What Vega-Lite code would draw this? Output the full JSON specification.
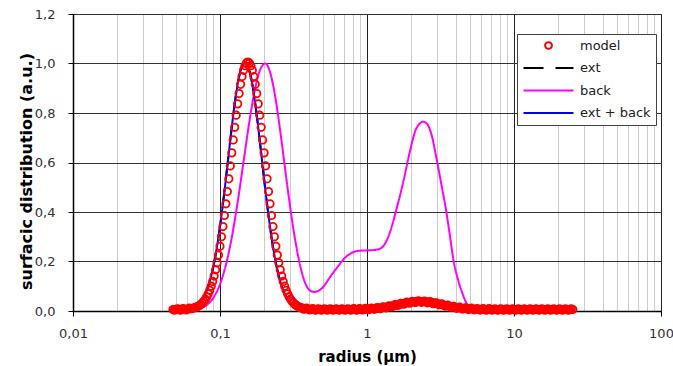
{
  "$schema": "https://vega.github.io/schema/vega-lite/v6.json",
  "width": 588,
  "height": 297,
  "autosize": {"type": "none"},
  "padding": {"left": 73, "top": 14, "right": 12, "bottom": 55},
  "background": "white",
  "config": {
    "view": {"stroke": "#808080", "strokeWidth": 1},
    "font": "DejaVu Sans",
    "axis": {
      "domainColor": "#000000",
      "domainWidth": 1.5,
      "tickColor": "#000000",
      "tickSize": 5,
      "labelFont": "DejaVu Sans",
      "labelFontSize": 13,
      "labelColor": "#333333",
      "titleFont": "DejaVu Sans",
      "titleFontWeight": "bold",
      "titleColor": "#000000",
      "labelFlush": false,
      "labelOverlap": false
    },
    "legend": {
      "orient": "none",
      "legendX": 444,
      "legendY": 20,
      "strokeColor": "#404040",
      "fillColor": "white",
      "padding": 5,
      "labelFont": "DejaVu Sans",
      "labelFontSize": 13,
      "labelColor": "#222222",
      "symbolSize": 100,
      "symbolOffset": 20,
      "labelOffset": 25,
      "rowPadding": 8.5,
      "symbolStrokeWidth": 2
    }
  },
  "datasets": {
    "model": [
      {"s":"model","r":0.04786,"v":0.006},{"s":"model","r":0.05012,"v":0.006},{"s":"model","r":0.05248,"v":0.0062},{"s":"model","r":0.05495,"v":0.0065},
      {"s":"model","r":0.05754,"v":0.0069},{"s":"model","r":0.06026,"v":0.0077},{"s":"model","r":0.0631,"v":0.0092},{"s":"model","r":0.06607,"v":0.0117},
      {"s":"model","r":0.048978,"v":0.003},{"s":"model","r":0.051286,"v":0.009},{"s":"model","r":0.053703,"v":0.0035},{"s":"model","r":0.056234,"v":0.0097},
      {"s":"model","r":0.058884,"v":0.0043},{"s":"model","r":0.06166,"v":0.0115},{"s":"model","r":0.064565,"v":0.0104},{"s":"model","r":0.067608,"v":0.0137},
      {"s":"model","r":0.06918,"v":0.0157},{"s":"model","r":0.07079,"v":0.0186},{"s":"model","r":0.07244,"v":0.0223},{"s":"model","r":0.07413,"v":0.0268},
      {"s":"model","r":0.07586,"v":0.0324},{"s":"model","r":0.07762,"v":0.0393},{"s":"model","r":0.07943,"v":0.0476},{"s":"model","r":0.08128,"v":0.0576},
      {"s":"model","r":0.08318,"v":0.0695},{"s":"model","r":0.08511,"v":0.0836},{"s":"model","r":0.0871,"v":0.1001},{"s":"model","r":0.08913,"v":0.1193},
      {"s":"model","r":0.0912,"v":0.1413},{"s":"model","r":0.09333,"v":0.1664},{"s":"model","r":0.0955,"v":0.1948},{"s":"model","r":0.09772,"v":0.2264},
      {"s":"model","r":0.1,"v":0.2614},{"s":"model","r":0.10233,"v":0.2998},{"s":"model","r":0.10471,"v":0.3413},{"s":"model","r":0.10715,"v":0.3859},
      {"s":"model","r":0.10965,"v":0.4331},{"s":"model","r":0.1122,"v":0.4826},{"s":"model","r":0.11482,"v":0.5339},{"s":"model","r":0.11749,"v":0.5862},
      {"s":"model","r":0.12023,"v":0.6389},{"s":"model","r":0.12303,"v":0.6912},{"s":"model","r":0.12589,"v":0.7422},{"s":"model","r":0.12882,"v":0.7911},
      {"s":"model","r":0.13183,"v":0.8369},{"s":"model","r":0.1349,"v":0.8787},{"s":"model","r":0.13804,"v":0.9158},{"s":"model","r":0.14125,"v":0.9473},
      {"s":"model","r":0.14454,"v":0.9725},{"s":"model","r":0.14791,"v":0.991},{"s":"model","r":0.15136,"v":1.0022},{"s":"model","r":0.15488,"v":1.006},
      {"s":"model","r":0.15849,"v":1.0022},{"s":"model","r":0.16218,"v":0.991},{"s":"model","r":0.16596,"v":0.9725},{"s":"model","r":0.16982,"v":0.9473},
      {"s":"model","r":0.17378,"v":0.9158},{"s":"model","r":0.17783,"v":0.8787},{"s":"model","r":0.18197,"v":0.8369},{"s":"model","r":0.18621,"v":0.7911},
      {"s":"model","r":0.19055,"v":0.7422},{"s":"model","r":0.19498,"v":0.6912},{"s":"model","r":0.19953,"v":0.6389},{"s":"model","r":0.20417,"v":0.5862},
      {"s":"model","r":0.20893,"v":0.5339},{"s":"model","r":0.2138,"v":0.4826},{"s":"model","r":0.21878,"v":0.4331},{"s":"model","r":0.22387,"v":0.3859},
      {"s":"model","r":0.22909,"v":0.3413},{"s":"model","r":0.23442,"v":0.2998},{"s":"model","r":0.23988,"v":0.2614},{"s":"model","r":0.24547,"v":0.2264},
      {"s":"model","r":0.25119,"v":0.1948},{"s":"model","r":0.25704,"v":0.1664},{"s":"model","r":0.26303,"v":0.1413},{"s":"model","r":0.26915,"v":0.1193},
      {"s":"model","r":0.27542,"v":0.1001},{"s":"model","r":0.28184,"v":0.0836},{"s":"model","r":0.2884,"v":0.0695},{"s":"model","r":0.29512,"v":0.0576},
      {"s":"model","r":0.302,"v":0.0476},{"s":"model","r":0.30903,"v":0.0393},{"s":"model","r":0.31623,"v":0.0324},{"s":"model","r":0.32359,"v":0.0268},
      {"s":"model","r":0.33113,"v":0.0223},{"s":"model","r":0.33884,"v":0.0186},{"s":"model","r":0.34674,"v":0.0157},{"s":"model","r":0.35481,"v":0.0134},
      {"s":"model","r":0.36308,"v":0.0117},{"s":"model","r":0.38019,"v":0.0092},{"s":"model","r":0.39811,"v":0.0077},{"s":"model","r":0.41687,"v":0.0069},
      {"s":"model","r":0.43652,"v":0.0065},{"s":"model","r":0.45709,"v":0.0062},{"s":"model","r":0.47863,"v":0.006},{"s":"model","r":0.50119,"v":0.006},
      {"s":"model","r":0.52481,"v":0.006},{"s":"model","r":0.54954,"v":0.006},{"s":"model","r":0.57544,"v":0.006},{"s":"model","r":0.60256,"v":0.006},
      {"s":"model","r":0.63096,"v":0.006},{"s":"model","r":0.66069,"v":0.006},{"s":"model","r":0.69183,"v":0.006},{"s":"model","r":0.72444,"v":0.006},
      {"s":"model","r":0.75858,"v":0.0061},{"s":"model","r":0.79433,"v":0.0062},{"s":"model","r":0.83176,"v":0.0064},{"s":"model","r":0.87096,"v":0.0066},
      {"s":"model","r":0.91201,"v":0.0069},{"s":"model","r":0.95499,"v":0.0073},{"s":"model","r":1.0,"v":0.0078},{"s":"model","r":1.0471,"v":0.0085},
      {"s":"model","r":1.0965,"v":0.0093},{"s":"model","r":1.1482,"v":0.0103},{"s":"model","r":1.2023,"v":0.0116},{"s":"model","r":1.2589,"v":0.0131},
      {"s":"model","r":1.3183,"v":0.0149},{"s":"model","r":1.3804,"v":0.0169},{"s":"model","r":1.4454,"v":0.0192},{"s":"model","r":1.5136,"v":0.0216},
      {"s":"model","r":1.5849,"v":0.0241},{"s":"model","r":1.6596,"v":0.0267},{"s":"model","r":1.7378,"v":0.0292},{"s":"model","r":1.8197,"v":0.0316},
      {"s":"model","r":1.9055,"v":0.0338},{"s":"model","r":1.9953,"v":0.0355},{"s":"model","r":2.0893,"v":0.0369},{"s":"model","r":2.1878,"v":0.0377},
      {"s":"model","r":2.2909,"v":0.038},{"s":"model","r":2.3988,"v":0.0377},{"s":"model","r":2.5119,"v":0.0369},{"s":"model","r":2.6303,"v":0.0355},
      {"s":"model","r":2.7542,"v":0.0338},{"s":"model","r":2.884,"v":0.0316},{"s":"model","r":3.02,"v":0.0292},{"s":"model","r":3.1623,"v":0.0267},
      {"s":"model","r":3.3113,"v":0.0241},{"s":"model","r":3.4674,"v":0.0216},{"s":"model","r":3.6308,"v":0.0192},{"s":"model","r":3.8019,"v":0.0169},
      {"s":"model","r":3.9811,"v":0.0149},{"s":"model","r":4.1687,"v":0.0131},{"s":"model","r":4.3652,"v":0.0116},{"s":"model","r":4.5709,"v":0.0103},
      {"s":"model","r":4.7863,"v":0.0093},{"s":"model","r":5.0119,"v":0.0085},{"s":"model","r":5.2481,"v":0.0078},{"s":"model","r":5.4954,"v":0.0073},
      {"s":"model","r":5.7544,"v":0.0069},{"s":"model","r":6.0256,"v":0.0066},{"s":"model","r":6.3096,"v":0.0064},{"s":"model","r":6.6069,"v":0.0062},
      {"s":"model","r":6.9183,"v":0.0061},{"s":"model","r":7.2444,"v":0.006},{"s":"model","r":7.5858,"v":0.006},{"s":"model","r":7.9433,"v":0.006},
      {"s":"model","r":8.3176,"v":0.006},{"s":"model","r":8.7096,"v":0.006},{"s":"model","r":9.1201,"v":0.006},{"s":"model","r":9.5499,"v":0.006},
      {"s":"model","r":10.0,"v":0.006},{"s":"model","r":10.471,"v":0.006},{"s":"model","r":10.965,"v":0.006},{"s":"model","r":11.482,"v":0.006},
      {"s":"model","r":12.023,"v":0.006},{"s":"model","r":12.589,"v":0.006},{"s":"model","r":13.183,"v":0.006},{"s":"model","r":13.804,"v":0.006},
      {"s":"model","r":14.454,"v":0.006},{"s":"model","r":15.136,"v":0.006},{"s":"model","r":15.849,"v":0.006},{"s":"model","r":16.596,"v":0.006},
      {"s":"model","r":17.378,"v":0.006},{"s":"model","r":18.197,"v":0.006},{"s":"model","r":19.055,"v":0.006},{"s":"model","r":19.953,"v":0.006},
      {"s":"model","r":20.893,"v":0.006},{"s":"model","r":21.878,"v":0.006},{"s":"model","r":22.909,"v":0.006},{"s":"model","r":23.988,"v":0.006},
      {"s":"model","r":25.119,"v":0.006},
      {"s":"model","r":0.37154,"v":0.0075},{"s":"model","r":0.38905,"v":0.0115},{"s":"model","r":0.40738,"v":0.0043},{"s":"model","r":0.42658,"v":0.0097},
      {"s":"model","r":0.44668,"v":0.0034},{"s":"model","r":0.46774,"v":0.0091},{"s":"model","r":0.48978,"v":0.003},{"s":"model","r":0.51286,"v":0.009},
      {"s":"model","r":0.53703,"v":0.003},{"s":"model","r":0.56234,"v":0.009},{"s":"model","r":0.58884,"v":0.003},{"s":"model","r":0.6166,"v":0.009},
      {"s":"model","r":0.64565,"v":0.003},{"s":"model","r":0.67608,"v":0.009},{"s":"model","r":0.70795,"v":0.003},{"s":"model","r":0.74131,"v":0.009},
      {"s":"model","r":0.77625,"v":0.0032},{"s":"model","r":0.81283,"v":0.0093},{"s":"model","r":0.85114,"v":0.0035},{"s":"model","r":0.89125,"v":0.0098},
      {"s":"model","r":0.93325,"v":0.0041},{"s":"model","r":0.97724,"v":0.0106},{"s":"model","r":1.0233,"v":0.0052},{"s":"model","r":1.0715,"v":0.0119},
      {"s":"model","r":1.122,"v":0.0068},{"s":"model","r":1.1749,"v":0.014},{"s":"model","r":1.2303,"v":0.0094},{"s":"model","r":1.2882,"v":0.017},
      {"s":"model","r":1.349,"v":0.0129},{"s":"model","r":1.4125,"v":0.0211},{"s":"model","r":1.4791,"v":0.0174},{"s":"model","r":1.5488,"v":0.0259},
      {"s":"model","r":1.6218,"v":0.0224},{"s":"model","r":1.6982,"v":0.031},{"s":"model","r":1.7783,"v":0.0274},{"s":"model","r":1.8621,"v":0.0357},
      {"s":"model","r":1.9498,"v":0.0317},{"s":"model","r":2.0417,"v":0.0392},{"s":"model","r":2.138,"v":0.0343},{"s":"model","r":2.2387,"v":0.0409},
      {"s":"model","r":2.3442,"v":0.0349},{"s":"model","r":2.4547,"v":0.0403},{"s":"model","r":2.5704,"v":0.0332},{"s":"model","r":2.6915,"v":0.0377},
      {"s":"model","r":2.8184,"v":0.0297},{"s":"model","r":2.9512,"v":0.0334},{"s":"model","r":3.0903,"v":0.025},{"s":"model","r":3.2359,"v":0.0284},
      {"s":"model","r":3.3884,"v":0.0199},{"s":"model","r":3.5481,"v":0.0234},{"s":"model","r":3.7154,"v":0.0151},{"s":"model","r":3.8905,"v":0.0189},
      {"s":"model","r":4.0738,"v":0.011},{"s":"model","r":4.2658,"v":0.0154},{"s":"model","r":4.4668,"v":0.008},{"s":"model","r":4.6774,"v":0.0128},
      {"s":"model","r":4.8978,"v":0.0059},{"s":"model","r":5.1286,"v":0.0112},{"s":"model","r":5.3703,"v":0.0046},{"s":"model","r":5.6234,"v":0.0101},
      {"s":"model","r":5.8884,"v":0.0038},{"s":"model","r":6.166,"v":0.0095},{"s":"model","r":6.4565,"v":0.0033},{"s":"model","r":6.7608,"v":0.0092},
      {"s":"model","r":7.0795,"v":0.003},{"s":"model","r":7.4131,"v":0.009},{"s":"model","r":7.7625,"v":0.003},{"s":"model","r":8.1283,"v":0.009},
      {"s":"model","r":8.5114,"v":0.003},{"s":"model","r":8.9125,"v":0.009},{"s":"model","r":9.3325,"v":0.003},{"s":"model","r":9.7724,"v":0.009},
      {"s":"model","r":10.233,"v":0.003},{"s":"model","r":10.715,"v":0.009},{"s":"model","r":11.22,"v":0.003},{"s":"model","r":11.749,"v":0.009},
      {"s":"model","r":12.303,"v":0.003},{"s":"model","r":12.882,"v":0.009},{"s":"model","r":13.49,"v":0.003},{"s":"model","r":14.125,"v":0.009},
      {"s":"model","r":14.791,"v":0.003},{"s":"model","r":15.488,"v":0.009},{"s":"model","r":16.218,"v":0.003},{"s":"model","r":16.982,"v":0.009},
      {"s":"model","r":17.783,"v":0.003},{"s":"model","r":18.621,"v":0.009},{"s":"model","r":19.498,"v":0.003},{"s":"model","r":20.417,"v":0.009},
      {"s":"model","r":21.38,"v":0.003},{"s":"model","r":22.387,"v":0.009},{"s":"model","r":23.442,"v":0.003},{"s":"model","r":24.547,"v":0.009}
    ],
    "back": [
      {"s":"back","r":0.04786,"v":0},{"s":"back","r":0.05754,"v":0.001},{"s":"back","r":0.0631,"v":0.0023},{"s":"back","r":0.06918,"v":0.0057},
      {"s":"back","r":0.07586,"v":0.0134},{"s":"back","r":0.08318,"v":0.0289},{"s":"back","r":0.0912,"v":0.058},{"s":"back","r":0.1,"v":0.1079},
      {"s":"back","r":0.10965,"v":0.1859},{"s":"back","r":0.12023,"v":0.2967},{"s":"back","r":0.13183,"v":0.4392},{"s":"back","r":0.14454,"v":0.6024},
      {"s":"back","r":0.15849,"v":0.7655},{"s":"back","r":0.17378,"v":0.9016},{"s":"back","r":0.19055,"v":0.984},{"s":"back","r":0.20417,"v":1.0},
      {"s":"back","r":0.21878,"v":0.9664},{"s":"back","r":0.23988,"v":0.8504},{"s":"back","r":0.26303,"v":0.6808},{"s":"back","r":0.2884,"v":0.4958},
      {"s":"back","r":0.31623,"v":0.3284},{"s":"back","r":0.34674,"v":0.1979},{"s":"back","r":0.38019,"v":0.112},{"s":"back","r":0.41687,"v":0.08},
      {"s":"back","r":0.43652,"v":0.077},{"s":"back","r":0.45709,"v":0.079},{"s":"back","r":0.50119,"v":0.096},{"s":"back","r":0.56234,"v":0.138},
      {"s":"back","r":0.63096,"v":0.178},{"s":"back","r":0.70795,"v":0.215},{"s":"back","r":0.79433,"v":0.236},{"s":"back","r":0.87096,"v":0.243},
      {"s":"back","r":1.0,"v":0.245},{"s":"back","r":1.1482,"v":0.247},{"s":"back","r":1.2589,"v":0.256},{"s":"back","r":1.349,"v":0.28},
      {"s":"back","r":1.4454,"v":0.325},{"s":"back","r":1.5849,"v":0.41},{"s":"back","r":1.7783,"v":0.53},{"s":"back","r":1.9498,"v":0.64},
      {"s":"back","r":2.138,"v":0.73},{"s":"back","r":2.2909,"v":0.758},{"s":"back","r":2.3988,"v":0.765},{"s":"back","r":2.5704,"v":0.755},
      {"s":"back","r":2.7542,"v":0.71},{"s":"back","r":2.9512,"v":0.625},{"s":"back","r":3.1623,"v":0.53},{"s":"back","r":3.4674,"v":0.4},
      {"s":"back","r":3.6728,"v":0.3},{"s":"back","r":3.8905,"v":0.2},{"s":"back","r":4.1687,"v":0.125},{"s":"back","r":4.4668,"v":0.07},
      {"s":"back","r":4.7863,"v":0.028},{"s":"back","r":5.1286,"v":0.008},{"s":"back","r":5.4954,"v":0.001},{"s":"back","r":6.3096,"v":0},
      {"s":"back","r":25.119,"v":0}
    ],
    "ext": [
      {"s":"ext","r":0.04677,"v":0.006},{"s":"ext","r":0.0537,"v":0.0067},{"s":"ext","r":0.05888,"v":0.0084},{"s":"ext","r":0.06166,"v":0.0103},
      {"s":"ext","r":0.06457,"v":0.0134},{"s":"ext","r":0.06761,"v":0.0186},{"s":"ext","r":0.07079,"v":0.0268},{"s":"ext","r":0.07413,"v":0.0393},
      {"s":"ext","r":0.07762,"v":0.0576},{"s":"ext","r":0.08128,"v":0.0836},{"s":"ext","r":0.08511,"v":0.1193},{"s":"ext","r":0.08913,"v":0.1664},
      {"s":"ext","r":0.09333,"v":0.2264},{"s":"ext","r":0.09772,"v":0.2998},{"s":"ext","r":0.10233,"v":0.3859},{"s":"ext","r":0.10715,"v":0.4826},
      {"s":"ext","r":0.1122,"v":0.5862},{"s":"ext","r":0.11749,"v":0.6912},{"s":"ext","r":0.12303,"v":0.7911},{"s":"ext","r":0.12882,"v":0.8787},
      {"s":"ext","r":0.1349,"v":0.9473},{"s":"ext","r":0.14125,"v":0.991},{"s":"ext","r":0.14791,"v":1.006},{"s":"ext","r":0.15488,"v":0.991},
      {"s":"ext","r":0.16218,"v":0.9473},{"s":"ext","r":0.16982,"v":0.8787},{"s":"ext","r":0.17783,"v":0.7911},{"s":"ext","r":0.18621,"v":0.6912},
      {"s":"ext","r":0.19498,"v":0.5862},{"s":"ext","r":0.20417,"v":0.4826},{"s":"ext","r":0.2138,"v":0.3859},{"s":"ext","r":0.22387,"v":0.2998},
      {"s":"ext","r":0.23442,"v":0.2264},{"s":"ext","r":0.24547,"v":0.1664},{"s":"ext","r":0.25704,"v":0.1193},{"s":"ext","r":0.26915,"v":0.0836},
      {"s":"ext","r":0.28184,"v":0.0576},{"s":"ext","r":0.29512,"v":0.0393},{"s":"ext","r":0.30903,"v":0.0268},{"s":"ext","r":0.32359,"v":0.0186},
      {"s":"ext","r":0.33884,"v":0.0134},{"s":"ext","r":0.35481,"v":0.0103},{"s":"ext","r":0.38905,"v":0.0073},{"s":"ext","r":0.46774,"v":0.006},
      {"s":"ext","r":1.0,"v":0.0078},{"s":"ext","r":1.5849,"v":0.0241},{"s":"ext","r":2.2909,"v":0.038},{"s":"ext","r":3.3113,"v":0.0241},
      {"s":"ext","r":5.2481,"v":0.0078},{"s":"ext","r":10.0,"v":0.006},{"s":"ext","r":25.119,"v":0.006}
    ],
    "extback": [
      {"s":"ext + back","r":0.04677,"v":0.006},{"s":"ext + back","r":0.0537,"v":0.0067},{"s":"ext + back","r":0.05888,"v":0.0084},{"s":"ext + back","r":0.06166,"v":0.0103},
      {"s":"ext + back","r":0.06457,"v":0.0134},{"s":"ext + back","r":0.06761,"v":0.0186},{"s":"ext + back","r":0.07079,"v":0.0268},{"s":"ext + back","r":0.07413,"v":0.0393},
      {"s":"ext + back","r":0.07762,"v":0.0576},{"s":"ext + back","r":0.08128,"v":0.0836},{"s":"ext + back","r":0.08511,"v":0.1193},{"s":"ext + back","r":0.08913,"v":0.1664},
      {"s":"ext + back","r":0.09333,"v":0.2264},{"s":"ext + back","r":0.09772,"v":0.2998},{"s":"ext + back","r":0.10233,"v":0.3859},{"s":"ext + back","r":0.10715,"v":0.4826},
      {"s":"ext + back","r":0.1122,"v":0.5862},{"s":"ext + back","r":0.11749,"v":0.6912},{"s":"ext + back","r":0.12303,"v":0.7911},{"s":"ext + back","r":0.12882,"v":0.8787},
      {"s":"ext + back","r":0.1349,"v":0.9473},{"s":"ext + back","r":0.14125,"v":0.991},{"s":"ext + back","r":0.14791,"v":1.006},{"s":"ext + back","r":0.15488,"v":0.991},
      {"s":"ext + back","r":0.16218,"v":0.9473},{"s":"ext + back","r":0.16982,"v":0.8787},{"s":"ext + back","r":0.17783,"v":0.7911},{"s":"ext + back","r":0.18621,"v":0.6912},
      {"s":"ext + back","r":0.19498,"v":0.5862},{"s":"ext + back","r":0.20417,"v":0.4826},{"s":"ext + back","r":0.2138,"v":0.3859},{"s":"ext + back","r":0.22387,"v":0.2998},
      {"s":"ext + back","r":0.23442,"v":0.2264},{"s":"ext + back","r":0.24547,"v":0.1664},{"s":"ext + back","r":0.25704,"v":0.1193},{"s":"ext + back","r":0.26915,"v":0.0836},
      {"s":"ext + back","r":0.28184,"v":0.0576},{"s":"ext + back","r":0.29512,"v":0.0393},{"s":"ext + back","r":0.30903,"v":0.0268},{"s":"ext + back","r":0.32359,"v":0.0186},
      {"s":"ext + back","r":0.33884,"v":0.0134},{"s":"ext + back","r":0.35481,"v":0.0103},{"s":"ext + back","r":0.38905,"v":0.0073},{"s":"ext + back","r":0.46774,"v":0.006},
      {"s":"ext + back","r":1.0,"v":0.0078},{"s":"ext + back","r":1.5849,"v":0.0241},{"s":"ext + back","r":2.2909,"v":0.038},{"s":"ext + back","r":3.3113,"v":0.0241},
      {"s":"ext + back","r":5.2481,"v":0.0078},{"s":"ext + back","r":10.0,"v":0.006},{"s":"ext + back","r":25.119,"v":0.006}
    ]
  },
  "encoding": {
    "x": {
      "field": "r",
      "type": "quantitative",
      "title": "radius (µm)",
      "scale": {"type": "log", "domain": [0.01, 100]},
      "axis": {
        "values": [0.01,0.02,0.03,0.04,0.05,0.06,0.07,0.08,0.09,0.1,0.2,0.3,0.4,0.5,0.6,0.7,0.8,0.9,1,2,3,4,5,6,7,8,9,10,20,30,40,50,60,70,80,90,100],
        "labelExpr": "abs(log(datum.value)/LN10 - round(log(datum.value)/LN10)) < 0.001 ? replace(datum.value + '', '.', ',') : ''",
        "grid": true,
        "gridColor": {"condition": {"test": "abs(log(datum.value)/LN10 - round(log(datum.value)/LN10)) < 0.001", "value": "#222222"}, "value": "#cccccc"},
        "tickOpacity": {"condition": {"test": "abs(log(datum.value)/LN10 - round(log(datum.value)/LN10)) < 0.001", "value": 1}, "value": 0},
        "labelPadding": 11,
        "titleFontSize": 15,
        "titleY": 45,
        "titleBaseline": "middle"
      }
    },
    "y": {
      "field": "v",
      "type": "quantitative",
      "title": "surfacic distribution (a.u.)",
      "scale": {"domain": [0, 1.2], "nice": false},
      "axis": {
        "values": [0, 0.2, 0.4, 0.6, 0.8, 1.0, 1.2],
        "labelExpr": "replace(format(datum.value, '.1f'), '.', ',')",
        "grid": true,
        "gridColor": "#333333",
        "labelPadding": 13,
        "titleFontSize": 16,
        "titleX": -47,
        "titleY": 157,
        "titleBaseline": "middle"
      }
    }
  },
  "layer": [
    {
      "data": {"name": "ext"},
      "mark": {"type": "line", "strokeWidth": 2, "interpolate": "monotone"},
      "encoding": {
        "color": {"field": "s", "type": "nominal", "scale": {"domain": ["model", "ext", "back", "ext + back"], "range": ["#ff0000", "#000000", "#ff00ff", "#0000ff"]}, "legend": {"title": null, "encode": {"symbols": {"update": {"size": {"signal": "datum.value === 'model' ? 45 : 100"}, "fill": {"value": "transparent"}}}}}},
        "strokeDash": {"field": "s", "type": "nominal", "scale": {"domain": ["model", "ext", "back", "ext + back"], "range": [[1, 0], [20, 12], [1, 0], [1, 0]]}, "legend": {"title": null}}
      }
    },
    {
      "data": {"name": "back"},
      "mark": {"type": "line", "strokeWidth": 2, "interpolate": "monotone"},
      "encoding": {
        "color": {"field": "s", "type": "nominal", "scale": {"domain": ["model", "ext", "back", "ext + back"], "range": ["#ff0000", "#000000", "#ff00ff", "#0000ff"]}, "legend": {"title": null, "encode": {"symbols": {"update": {"size": {"signal": "datum.value === 'model' ? 45 : 100"}, "fill": {"value": "transparent"}}}}}},
        "strokeDash": {"field": "s", "type": "nominal", "scale": {"domain": ["model", "ext", "back", "ext + back"], "range": [[1, 0], [20, 12], [1, 0], [1, 0]]}, "legend": {"title": null}}
      }
    },
    {
      "data": {"name": "extback"},
      "mark": {"type": "line", "strokeWidth": 2, "interpolate": "monotone"},
      "encoding": {
        "color": {"field": "s", "type": "nominal", "scale": {"domain": ["model", "ext", "back", "ext + back"], "range": ["#ff0000", "#000000", "#ff00ff", "#0000ff"]}, "legend": {"title": null, "encode": {"symbols": {"update": {"size": {"signal": "datum.value === 'model' ? 45 : 100"}, "fill": {"value": "transparent"}}}}}},
        "strokeDash": {"field": "s", "type": "nominal", "scale": {"domain": ["model", "ext", "back", "ext + back"], "range": [[1, 0], [20, 12], [1, 0], [1, 0]]}, "legend": {"title": null}}
      }
    },
    {
      "data": {"name": "model"},
      "mark": {"type": "point", "filled": false, "size": 55, "strokeWidth": 1.8, "opacity": 1},
      "encoding": {
        "color": {"field": "s", "type": "nominal", "scale": {"domain": ["model", "ext", "back", "ext + back"], "range": ["#ff0000", "#000000", "#ff00ff", "#0000ff"]}, "legend": {"title": null, "encode": {"symbols": {"update": {"size": {"signal": "datum.value === 'model' ? 45 : 100"}, "fill": {"value": "transparent"}}}}}},
        "shape": {"field": "s", "type": "nominal", "scale": {"domain": ["model", "ext", "back", "ext + back"], "range": ["circle", "M-5,0H5", "M-5,0H5", "M-5,0H5"]}, "legend": {"title": null}}
      }
    }
  ]
}
